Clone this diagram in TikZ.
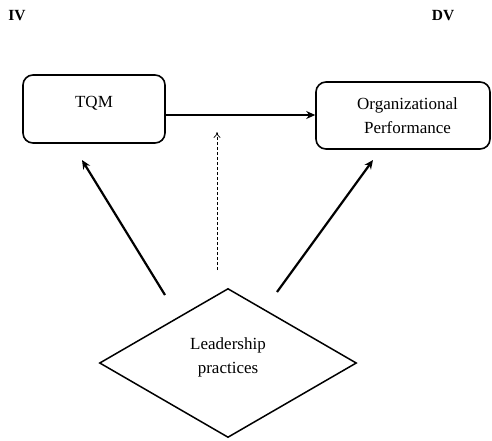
\documentclass[tikz,border=0pt]{standalone}
\usepackage{fontspec}
\setmainfont{Liberation Serif}
\usetikzlibrary{shapes.geometric,arrows.meta}
\begin{document}
\begin{tikzpicture}[x=1pt,y=-1pt,
  box/.style={draw,line width=1.6pt,rounded corners=10pt,inner sep=0pt},
  txt/.style={font=\fontsize{17}{24}\selectfont,align=center},
  head/.style={font=\fontsize{15.5}{18}\selectfont\bfseries},
  solidarrow/.style={line width=2.2pt,-{Stealth[length=9pt,width=8pt]}},
  dasharrow/.style={line width=0.7pt,dashed,dash pattern=on 3pt off 2pt,-{To[length=6pt,width=7pt]}}]
\useasboundingbox (0,0) rectangle (492,440);
\node[head] (iv) at (17,16) {IV};
\node[head] (dv) at (443,16) {DV};
\node[box,minimum width=142pt,minimum height=68pt,label={[txt,yshift=6pt]center:TQM}] (tqm) at (94,109) {};
\node[box,minimum width=174pt,minimum height=67pt,txt] (op) at (403,115.5) {\hspace*{9pt}Organizational\\\hspace*{9pt}Performance};
\node[draw,diamond,line width=1.5pt,inner sep=0pt,aspect=1.72,minimum width=257pt,minimum height=149pt] (lp) at (228,363) {};
\node[txt] (lptext) at (228,357) {Leadership\\practices};
\coordinate (la) at (165,295);
\coordinate (lb) at (82,160);
\coordinate (ra) at (277,292);
\coordinate (rb) at (373,160);
\coordinate (da) at (217,270);
\coordinate (db) at (217,132);
\draw[solidarrow] (tqm.east |- 0,115) -- (op.west |- 0,115);
\draw[solidarrow] (la) -- (lb);
\draw[solidarrow] (ra) -- (rb);
\draw[dasharrow] (da) -- (db);
\end{tikzpicture}
\end{document}
